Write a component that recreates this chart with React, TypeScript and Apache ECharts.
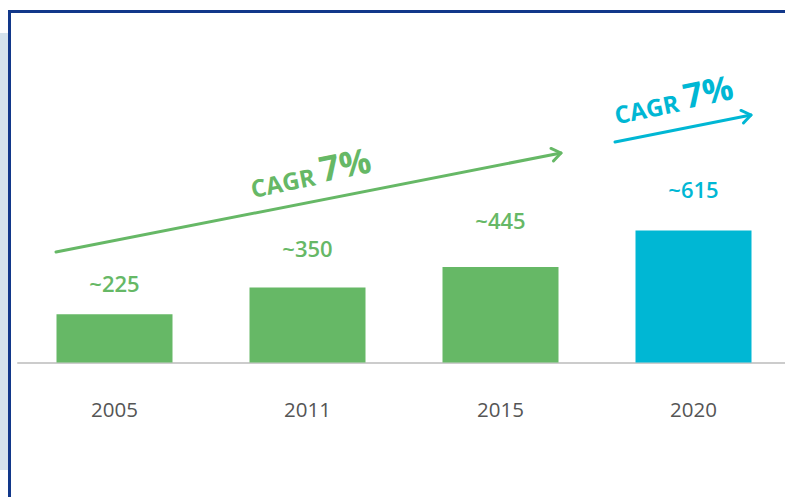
import React, { useEffect, useRef } from "react";
import * as echarts from "echarts";

const categories = ["2005", "2011", "2015", "2020"];
const values = [225, 350, 445, 615];
const valueLabels = ["~225", "~350", "~445", "~615"];
const labelDistances = [20, 28, 36, 31];
const barColors = ["#66b866", "#66b866", "#66b866", "#00b7d4"];
const cagrLabels = ["CAGR ", "7%"];

const GREEN = "#66b866";
const CYAN = "#00b7d4";

function arrow(x1: number, y1: number, x2: number, y2: number, color: string) {
  const ang = Math.atan2(y2 - y1, x2 - x1);
  const len = 11;
  const spread = 0.62;
  const p1 = [x2 - len * Math.cos(ang - spread), y2 - len * Math.sin(ang - spread)];
  const p2 = [x2 - len * Math.cos(ang + spread), y2 - len * Math.sin(ang + spread)];
  return [
    {
      type: "line",
      shape: { x1, y1, x2, y2 },
      style: { stroke: color, lineWidth: 3, lineCap: "round" },
      z: 10,
    },
    {
      type: "polyline",
      shape: { points: [p1, [x2, y2], p2] },
      style: { stroke: color, lineWidth: 3, fill: null, lineCap: "round", lineJoin: "round" },
      z: 10,
    },
  ];
}

function cagrText(x: number, y: number, color: string, rotation: number, small: number, big: number) {
  return {
    type: "text",
    x,
    y,
    rotation,
    z: 10,
    style: {
      text: `{a|${cagrLabels[0]}}{b|${cagrLabels[1]}}`,
      align: "center",
      verticalAlign: "middle",
      rich: {
        a: { fontFamily: "Open Sans", fontWeight: "bold", fontSize: small, fill: color, verticalAlign: "bottom" },
        b: { fontFamily: "Open Sans", fontWeight: "bold", fontSize: big, fill: color, verticalAlign: "bottom" },
      },
    },
  };
}

export default function App() {
  const ref = useRef<HTMLDivElement>(null);
  useEffect(() => {
    if (!ref.current) return;
    const chart = echarts.init(ref.current, null, { renderer: "svg" });
    chart.setOption({
      animation: false,
      backgroundColor: "#ffffff",
      grid: { left: 18, top: 148, width: 772, height: 214.5, outerBoundsMode: "none" },
      xAxis: {
        type: "category",
        data: categories,
        axisLine: { show: true, lineStyle: { color: "#cccccc", width: 2 } },
        axisTick: { show: false },
        axisLabel: {
          margin: 36,
          color: "#555555",
          fontSize: 20.5,
          fontFamily: "Open Sans",
        },
      },
      yAxis: {
        type: "value",
        min: 0,
        max: 1000,
        show: false,
        splitLine: { show: false },
      },
      series: [
        {
          type: "bar",
          barWidth: 116,
          data: values.map((v, i) => ({
            value: v,
            itemStyle: { color: barColors[i] },
            label: {
              show: true,
              position: "top",
              distance: labelDistances[i],
              formatter: valueLabels[i],
              color: barColors[i],
              fontSize: 22,
              fontWeight: 600,
              fontFamily: "Open Sans",
            },
          })),
        },
      ],
      graphic: [
        { type: "rect", shape: { x: 0, y: 33, width: 8, height: 437 }, style: { fill: "#d5e3ed" }, z: 20 },
        { type: "rect", shape: { x: 8, y: 10, width: 777, height: 3 }, style: { fill: "#12388a" }, z: 20 },
        { type: "rect", shape: { x: 8, y: 10, width: 3, height: 487 }, style: { fill: "#12388a" }, z: 20 },
        ...arrow(56, 252, 561, 153, GREEN),
        ...arrow(615, 142, 751, 115, CYAN),
        cagrText(310, 171, GREEN, 0.2, 24, 35),
        cagrText(673, 98, CYAN, 0.2, 24, 34),
      ],
    });
    return () => chart.dispose();
  }, []);
  return (
    <div
      ref={ref}
      style={{ position: "absolute", left: 0, top: 0, width: 785, height: 497 }}
    />
  );
}
